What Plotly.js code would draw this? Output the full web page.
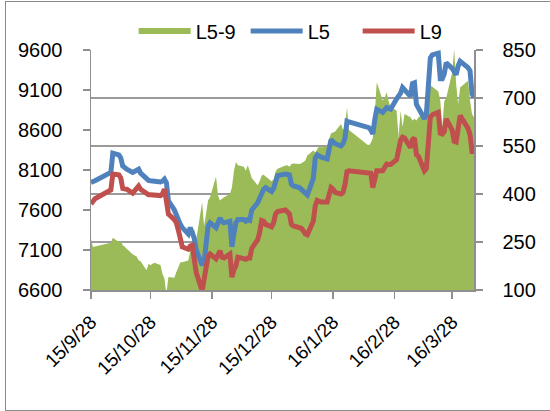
<!DOCTYPE html>
<html>
<head>
<meta charset="utf-8">
<script src="https://cdn.plot.ly/plotly-3.0.1.min.js"></script>
<style>
  html, body { margin: 0; padding: 0; background: #fff; }
  #wrap { position: relative; width: 550px; height: 411px; overflow: hidden; }
  #chart { position: absolute; left: 0; top: 0; width: 550px; height: 411px; }
  #frame { position: absolute; left: 5px; top: 1px; width: 546px; height: 408px; border: 1px solid #8a8a8a; pointer-events: none; }
</style>
</head>
<body>
<div id="wrap"><div id="chart"></div><div id="frame"></div></div>
<script>
const dates = ['2015-09-28','2015-09-29','2015-09-30','2015-10-08','2015-10-09','2015-10-12','2015-10-13','2015-10-14','2015-10-15','2015-10-16','2015-10-19','2015-10-20','2015-10-21','2015-10-22','2015-10-23','2015-10-26','2015-10-27','2015-10-28','2015-10-29','2015-10-30','2015-11-02','2015-11-03','2015-11-04','2015-11-05','2015-11-06','2015-11-09','2015-11-10','2015-11-11','2015-11-12','2015-11-13','2015-11-16','2015-11-17','2015-11-18','2015-11-19','2015-11-20','2015-11-23','2015-11-24','2015-11-25','2015-11-26','2015-11-27','2015-11-30','2015-12-01','2015-12-02','2015-12-03','2015-12-04','2015-12-07','2015-12-08','2015-12-09','2015-12-10','2015-12-11','2015-12-14','2015-12-15','2015-12-16','2015-12-17','2015-12-18','2015-12-21','2015-12-22','2015-12-23','2015-12-24','2015-12-25','2015-12-28','2015-12-29','2015-12-30','2015-12-31','2016-01-04','2016-01-05','2016-01-06','2016-01-07','2016-01-08','2016-01-11','2016-01-12','2016-01-13','2016-01-14','2016-01-15','2016-01-18','2016-01-19','2016-01-20','2016-01-21','2016-01-22','2016-01-25','2016-01-26','2016-01-27','2016-01-28','2016-01-29','2016-02-01','2016-02-02','2016-02-03','2016-02-04','2016-02-05','2016-02-15','2016-02-16','2016-02-17','2016-02-18','2016-02-19','2016-02-22','2016-02-23','2016-02-24','2016-02-25','2016-02-26','2016-02-29','2016-03-01','2016-03-02','2016-03-03','2016-03-04','2016-03-07','2016-03-08','2016-03-09','2016-03-10','2016-03-11','2016-03-14','2016-03-15','2016-03-16','2016-03-17','2016-03-18','2016-03-21','2016-03-22','2016-03-23','2016-03-24','2016-03-25','2016-03-28','2016-03-29','2016-03-30','2016-03-31','2016-04-01','2016-04-05','2016-04-06','2016-04-07','2016-04-08'];

const L5 = [7945,7955,7965, 8070,8310,8290,8250,8150,8120,8110, 8070,8080,8100,8110,8060, 7985,7970,7965,7960,7960,
  7950,7960,7985,7940,7715, 7600,7530,7470,7420,7380, 7300,7380,7330,7250,7100, 6910,6950,7170,7400,7440,
  7380,7440,7500,7460,7440, 7460,7140,7300,7440,7480, 7480,7460,7480,7470,7600, 7690,7760,7800,7860,7880,
  7830,7870,7960,8030, 8050,8050,8040,7920,7900, 7880,7860,7840,7800,7790, 7990,8250,8290,8270,8260,
  8240,8380,8480,8450,8430, 8400,8430,8500,8710,8700, 8630,8600,8550,8730,8860, 8820,8860,8880,8870,8860,
  8990, 9020,9060,9130,9100, 9020,9180,9190,8920,8880, 8740,8800,9180,9500,9540, 9560,9240,9240,9300,9440,
  9370,9330,9290,9400, 9460,9380,9340,9050,9010];

const L9 = [7675,7710,7740, 7850,8050,8040,8000,7870,7865,7860, 7810,7840,7880,7900,7860, 7800,7790,7790,7785,7780,
  7780,7800,7860,7715,7550, 7480,7440,7350,7270,7140, 7110,7150,7160,7030,6820, 6590,6700,6880,7020,7050,
  6990,7030,7090,7010,7000, 7050,6760,6850,6900,7010, 6990,6985,7000,7000,7120, 7230,7320,7470,7460,7420,
  7390,7440,7550,7580, 7600,7580,7550,7420,7400, 7380,7370,7340,7300,7290, 7460,7650,7720,7710,7700,
  7700,7800,7880,7860,7820, 7800,7820,7920,8080,8090, 8070,8060,7880,7980,8090, 8090,8140,8175,8170,8170,
  8230, 8380,8470,8510,8500, 8380,8480,8500,8290,8270, 8090,8120,8520,8760,8790, 8820,8560,8550,8580,8740,
  8600,8460,8450,8650, 8780,8620,8540,8330,8330];

const L59 = [260,234,236, 248,263,250,252,240,235,229, 212,208,205,193,190, 162,182,177,182,185,
  178,151,136,88,141, 138,156,170,187,187, 192,220,240,290,256, 374,300,340,380,390,
  455,395,380,385,390, 400,420,470,500,490, 485,473,490,470,450, 427,440,458,460,455,
  440,445,470,479, 489,490,485,494,495, 494,496,500,505,520, 536,530,540,550,545,
  550,572,590,592,595, 619,600,610,671,600, 551,560,575,650,749, 692,700,718,690,671,
  661, 578,660,609,650, 640,630,635,630,640, 650,671,700,739,735, 720,692,609,690,700,
  780,853,744,681, 733,754,692,650,640];

const xTickVals = ['2015-09-28','2015-10-28','2015-11-28','2015-12-28','2016-01-28','2016-02-28','2016-03-28'];
const xTickText = ['15/9/28','15/10/28','15/11/28','15/12/28','16/1/28','16/2/28','16/3/28'];
const yLeftTicks = [6600,7100,7600,8100,8600,9100,9600];
const yRightTicks = [100,250,400,550,700,850];

const fontFam = 'Liberation Sans, Arial, sans-serif';
const axisGray = '#8f8f8f';

// area on the main (right-hand) axis so that the lines, on the overlaying axis, are drawn above it
const traces = [
  { x: dates, y: L59, name: 'L5-9', type: 'scatter', mode: 'none', fill: 'tozeroy',
    fillcolor: '#9BBB59', yaxis: 'y' },
  { x: dates, y: L5, name: 'L5', type: 'scatter', mode: 'lines', yaxis: 'y2',
    line: { color: '#4F81BD', width: 5 } },
  { x: dates, y: L9, name: 'L9', type: 'scatter', mode: 'lines', yaxis: 'y2',
    line: { color: '#C0504D', width: 5 } }
];

const layout = {
  width: 550, height: 411,
  margin: { l: 91, r: 76, t: 49, b: 121, pad: 0 },
  paper_bgcolor: '#ffffff', plot_bgcolor: '#ffffff',
  font: { family: fontFam, size: 20, color: '#000' },
  showlegend: true,
  legend: { orientation: 'h', x: 0.55, xanchor: 'center', y: 1.075, yanchor: 'middle',
    font: { family: fontFam, size: 20, color: '#000' }, itemwidth: 52,
    entrywidth: 45, entrywidthmode: 'pixels', tracegroupgap: 0,
    traceorder: 'normal', bgcolor: 'rgba(0,0,0,0)' },
  xaxis: {
    type: 'date', range: ['2015-09-28', '2016-04-08'],
    tickmode: 'array', tickvals: xTickVals, ticktext: xTickText, tickangle: -45,
    ticks: 'outside', ticklen: 7, tickcolor: axisGray, tickwidth: 1.5,
    showline: true, linecolor: axisGray, linewidth: 1.5, showgrid: false, zeroline: false,
    tickfont: { family: fontFam, size: 19, color: '#000' }, ticklabelstandoff: 5
  },
  yaxis: {
    range: [100, 850], side: 'right', tickmode: 'array', tickvals: yRightTicks,
    ticks: 'outside', ticklen: 7, tickcolor: axisGray, tickwidth: 1.5,
    showline: true, linecolor: axisGray, linewidth: 1.5,
    showgrid: true, gridcolor: '#9a9a9a', gridwidth: 1.5, zeroline: false,
    tickfont: { family: fontFam, size: 20, color: '#000' }, ticklabelstandoff: 16
  },
  yaxis2: {
    range: [6600, 9600], overlaying: 'y', side: 'left', tickmode: 'array', tickvals: yLeftTicks,
    ticks: 'outside', ticklen: 7, tickcolor: axisGray, tickwidth: 1.5,
    showline: true, linecolor: axisGray, linewidth: 1.5, showgrid: false, zeroline: false,
    tickfont: { family: fontFam, size: 20, color: '#000' }, ticklabelstandoff: 16
  }
};

Plotly.newPlot('chart', traces, layout, { staticPlot: true, displayModeBar: false });
</script>
</body>
</html>
